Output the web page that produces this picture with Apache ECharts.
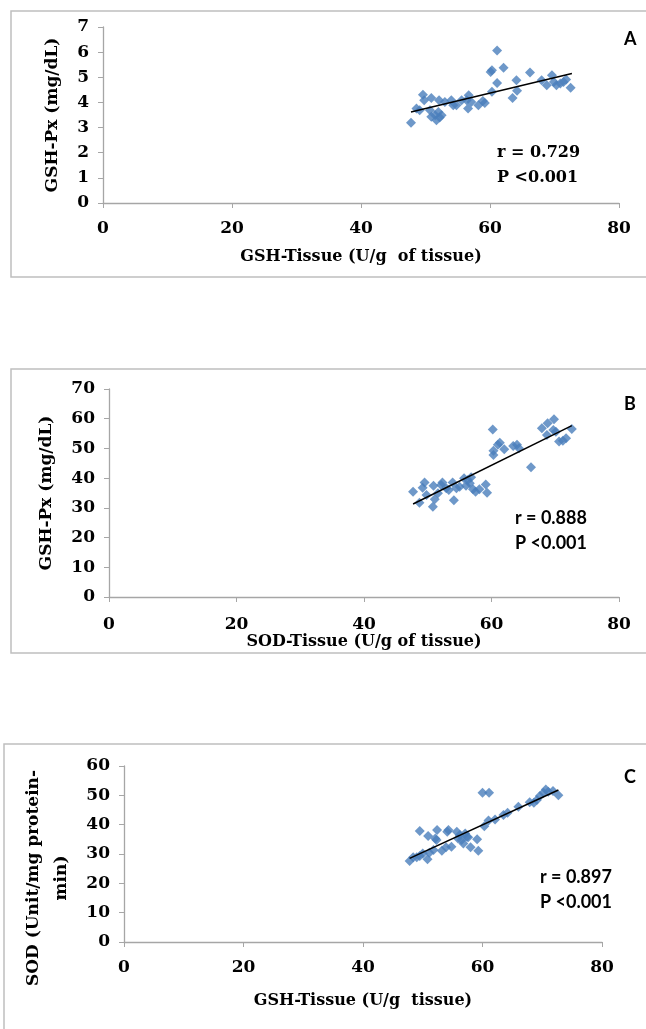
<!DOCTYPE html>
<html>
<head>
<meta charset="utf-8">
<script src="https://cdn.jsdelivr.net/npm/echarts@6/dist/echarts.min.js"></script>
<style>
  body { margin: 0; background: #fff; }
  #chart { width: 646px; height: 1029px; }
</style>
</head>
<body>
<div id="chart"></div>
<script>
// panel A: GSH-Tissue vs GSH-Px
let aX = [47.75, 48.6, 49.1, 49.6, 49.8, 50.9, 50.7, 50.9, 51.5, 51.7, 52.2, 52.0, 52.5, 52.1, 53.0, 54.0, 54.3, 54.8, 55.6, 56.4, 56.7, 56.6, 57.1, 58.2, 58.9, 59.2, 60.3, 60.1, 60.3, 61.1, 61.1, 62.1, 63.5, 64.1, 64.2, 66.2, 68.0, 68.8, 69.6, 69.9, 70.3, 70.9, 71.4, 71.8, 72.5];
let aY = [3.19, 3.76, 3.69, 4.31, 4.09, 4.18, 3.69, 3.43, 3.49, 3.29, 3.40, 3.62, 3.49, 4.09, 4.02, 4.09, 3.89, 3.89, 4.09, 4.09, 4.29, 3.76, 4.02, 3.89, 4.06, 3.98, 4.42, 5.21, 5.28, 6.07, 4.77, 5.38, 4.18, 4.88, 4.46, 5.19, 4.88, 4.68, 5.08, 4.81, 4.68, 4.75, 4.81, 4.91, 4.58];
let aTrendX = [47.75, 72.7];
let aTrendY = [3.62, 5.15];

// panel B: SOD-Tissue vs GSH-Px
let bX = [47.7, 48.7, 49.2, 49.5, 49.8, 50.8, 50.9, 51.1, 51.6, 52.1, 52.3, 52.9, 53.3, 53.9, 54.1, 54.5, 55.0, 55.7, 56.0, 56.6, 56.3, 56.8, 57.1, 57.5, 58.1, 59.1, 59.3, 60.2, 60.3, 60.3, 61.0, 61.3, 62.0, 63.4, 64.0, 64.3, 66.2, 67.9, 68.8, 68.7, 69.8, 69.7, 70.1, 70.6, 71.2, 71.7, 72.6];
let bY = [35.4, 31.7, 36.8, 38.5, 34.3, 30.4, 37.4, 32.9, 34.9, 37.7, 38.5, 36.6, 36.0, 38.5, 32.6, 36.6, 37.1, 40.0, 37.4, 38.3, 39.4, 40.3, 36.3, 35.4, 36.3, 37.9, 35.1, 56.4, 47.8, 49.2, 51.2, 51.9, 49.7, 50.8, 51.2, 50.1, 43.7, 56.8, 58.5, 54.5, 59.8, 56.2, 55.6, 52.3, 52.6, 53.4, 56.5];
let bTrendX = [47.7, 72.6];
let bTrendY = [31.3, 57.7];

// panel C: GSH-Tissue vs SOD
let cX = [47.8, 48.4, 49.0, 49.5, 49.5, 50.0, 50.8, 51.1, 50.9, 51.8, 52.1, 52.4, 52.3, 53.2, 53.9, 54.1, 54.3, 54.8, 55.7, 55.9, 56.2, 56.5, 56.8, 57.1, 57.4, 57.6, 58.0, 59.1, 59.3, 60.0, 61.1, 60.3, 61.0, 62.1, 63.5, 64.2, 66.0, 67.9, 68.6, 69.1, 69.6, 70.2, 70.6, 71.0, 71.8, 72.7];
let cY = [27.6, 28.9, 28.9, 29.3, 37.8, 30.2, 28.2, 30.4, 36.1, 31.4, 35.3, 38.2, 34.8, 31.1, 32.3, 37.6, 38.2, 32.5, 37.6, 35.3, 36.5, 34.8, 33.6, 37.0, 35.9, 35.7, 32.3, 35.0, 31.1, 50.9, 50.9, 39.5, 41.4, 41.8, 43.3, 44.1, 46.1, 47.6, 47.5, 48.4, 49.8, 50.9, 52.0, 51.2, 51.5, 50.0];
let cTrendX = [47.8, 72.7];
let cTrendY = [28.5, 51.8];

let xTicks = [0, 20, 40, 60, 80];

let serif = "DejaVu Serif";
let sans = "Lato";
let gray = "#a6a6a6";
let blue = "#4a7ebb";

function pairs(xs, ys) {
  return xs.map((x, i) => [x, ys[i]]);
}

function xAxis(idx, name, gap, margin) {
  return {
    gridIndex: idx, type: "value", min: xTicks[0], max: xTicks[xTicks.length - 1], interval: 20,
    name: name, nameLocation: "middle", nameGap: gap,
    nameTextStyle: { fontFamily: serif, fontWeight: "bold", fontSize: 16, color: "#000" },
    axisLine: { lineStyle: { color: gray, width: 1.3 } },
    axisTick: { show: true, length: 5, lineStyle: { color: gray } },
    axisLabel: { fontFamily: serif, fontWeight: "bold", fontSize: 17, color: "#000", margin: margin },
    splitLine: { show: false }
  };
}

function yAxis(idx, name, max, step, gap, pad) {
  return {
    gridIndex: idx, type: "value", min: 0, max: max, interval: step,
    name: name, nameLocation: "middle", nameGap: gap, nameRotate: 90,
    nameTextStyle: { fontFamily: serif, fontWeight: "bold", fontSize: 17, color: "#000", lineHeight: 28, padding: pad },
    axisLine: { show: true, lineStyle: { color: gray, width: 1.3 } },
    axisTick: { show: true, length: 5, lineStyle: { color: gray } },
    axisLabel: { fontFamily: serif, fontWeight: "bold", fontSize: 17, color: "#000", margin: 14 },
    splitLine: { show: false }
  };
}

function dots(idx, xs, ys) {
  return {
    type: "scatter", xAxisIndex: idx, yAxisIndex: idx,
    symbol: "diamond", symbolSize: 10,
    itemStyle: { color: blue },
    data: pairs(xs, ys)
  };
}

function trend(idx, xs, ys) {
  return {
    type: "line", xAxisIndex: idx, yAxisIndex: idx,
    showSymbol: false, silent: true,
    lineStyle: { color: "#000", width: 1.5 },
    data: pairs(xs, ys)
  };
}

function label(x, y, txt, font, size) {
  return {
    type: "text", left: x, top: y,
    style: { text: txt, font: "bold " + size + "px '" + font + "'", fill: "#000", lineHeight: 25 }
  };
}

function frame(x, y, w, h) {
  return {
    type: "rect", shape: { x: x, y: y, width: w, height: h },
    style: { fill: null, stroke: "#bfbfbf", lineWidth: 1.5 }, silent: true, z: -1
  };
}

let chart = echarts.init(document.getElementById("chart"), null, { renderer: "canvas" });

chart.setOption({
  animation: false,
  backgroundColor: "#fff",
  grid: [
    { left: 103, top: 27, width: 516, height: 176 },
    { left: 109, top: 389, width: 510, height: 208 },
    { left: 124, top: 766, width: 478, height: 176 }
  ],
  xAxis: [
    xAxis(0, "GSH-Tissue (U/g  of tissue)", 46, 17),
    xAxis(1, "SOD-Tissue (U/g of tissue)", 36, 19),
    xAxis(2, "GSH-Tissue (U/g  tissue)", 51, 17)
  ],
  yAxis: [
    yAxis(0, "GSH-Px (mg/dL)", 7, 1, 34, 0),
    yAxis(1, "GSH-Px (mg/dL)", 70, 10, 47, 0),
    yAxis(2, "SOD (Unit/mg protein-\nmin)", 60, 10, 42, [0, 48, 0, 0])
  ],
  graphic: [
    frame(11, 11, 660, 266),
    frame(11, 369, 660, 284),
    frame(4, 744, 660, 300),
    label(624, 27, "A", sans, 18),
    label(624, 392, "B", sans, 18),
    label(624, 765, "C", sans, 18),
    label(497, 140, "r = 0.729\nP <0.001", serif, 16),
    label(515, 506, "r = 0.888\nP <0.001", sans, 18),
    label(540, 865, "r = 0.897\nP <0.001", sans, 18)
  ],
  series: [
    dots(0, aX, aY), trend(0, aTrendX, aTrendY),
    dots(1, bX, bY), trend(1, bTrendX, bTrendY),
    dots(2, cX, cY), trend(2, cTrendX, cTrendY)
  ]
});
</script>
</body>
</html>
